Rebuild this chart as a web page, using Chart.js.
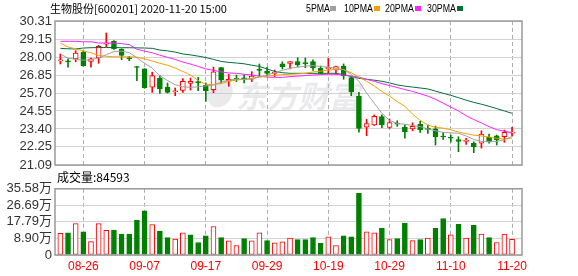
<!DOCTYPE html>
<html><head><meta charset="utf-8">
<script src="https://cdn.jsdelivr.net/npm/chart.js@4/dist/chart.umd.min.js"></script>
<style>
html,body{margin:0;padding:0;background:#fff;width:578px;height:276px;overflow:hidden;}
#wrap{position:relative;width:578px;height:276px;}
canvas{position:absolute;left:0;}
#priceC{top:0;width:578px;height:178px;}
#volC{top:178px;width:578px;height:98px;}
.t{position:absolute;white-space:nowrap;color:#000;font-family:"Noto Sans CJK SC","Liberation Sans",sans-serif;}
.lg{position:absolute;top:1px;font-size:11px;line-height:14px;font-family:"Liberation Sans",sans-serif;color:#000;white-space:nowrap;transform-origin:0 0;transform:scaleX(0.8);}
.sw{position:absolute;top:6px;width:6px;height:5px;}
</style></head>
<body><div id="wrap">
<canvas id="priceC" width="578" height="178"></canvas>
<canvas id="volC" width="578" height="98"></canvas>
<div class="t" style="left:50px;top:0px;font-size:11px;line-height:16px;">生物股份[600201] 2020-11-20 15:00</div>
<div id="legend"></div>
<div class="t" style="left:57px;top:168px;font-size:12px;line-height:17px;">成交量:84593</div>
</div>
<script>
const dates = ["08-21","08-24","08-25","08-26","08-27","08-28","08-31","09-01","09-02","09-03","09-04","09-07","09-08","09-09","09-10","09-11","09-14","09-15","09-16","09-17","09-18","09-21","09-22","09-23","09-24","09-25","09-28","09-29","09-30","10-09","10-12","10-13","10-14","10-15","10-16","10-19","10-20","10-21","10-22","10-23","10-26","10-27","10-28","10-29","10-30","11-02","11-03","11-04","11-05","11-06","11-09","11-10","11-11","11-12","11-13","11-16","11-17","11-18","11-19","11-20"];
const tickDates = ["08-26","09-07","09-17","09-29","10-19","10-29","11-10","11-20"];
const opens  = [27.76,27.72,27.88,28.32,27.72,27.94,28.83,29.01,28.50,27.92,27.37,27.24,26.08,26.66,26.08,25.78,25.87,26.32,26.40,26.19,25.92,27.32,26.45,26.62,26.64,26.58,27.19,27.09,26.96,27.56,27.60,27.71,27.62,27.71,27.28,27.24,27.19,27.43,26.68,25.51,23.51,23.66,24.19,23.50,23.75,23.51,23.40,23.70,23.41,23.41,22.92,22.84,22.72,22.60,22.48,22.48,22.86,22.95,22.90,23.13];
const highs  = [28.20,27.89,28.41,28.36,27.94,28.75,29.54,29.05,28.54,28.05,27.41,27.26,27.03,26.81,26.34,26.02,26.62,26.66,26.70,26.34,27.36,27.35,26.89,26.85,26.87,27.07,27.56,27.35,27.17,27.70,27.71,27.96,27.94,27.83,27.43,27.92,27.43,27.56,26.77,25.75,24.01,24.30,24.30,24.04,23.92,23.66,23.79,23.90,23.64,23.58,23.18,23.01,22.90,22.80,22.58,23.28,23.07,23.01,23.33,23.50];
const lows   = [27.56,27.35,27.70,27.42,27.35,27.60,28.66,28.49,27.83,27.77,26.49,26.00,25.74,25.68,25.70,25.53,25.74,25.89,25.85,25.17,25.72,26.32,26.13,26.43,26.34,26.43,26.77,26.77,26.75,27.24,27.24,27.39,27.32,27.15,26.90,26.96,26.90,26.58,25.53,23.19,22.97,23.62,23.48,23.43,23.56,22.80,23.28,23.17,23.12,22.37,22.73,22.55,21.94,22.41,21.88,22.17,22.48,22.37,22.54,22.97];
const closes = [27.80,27.69,28.26,27.45,27.88,28.69,28.88,28.54,28.11,27.89,27.33,26.04,26.81,25.96,25.74,25.82,26.45,26.45,26.36,25.85,27.06,26.53,26.58,26.58,26.60,26.79,27.15,26.96,27.01,27.37,27.71,27.49,27.58,27.30,27.00,27.35,27.39,26.79,25.79,23.44,23.75,24.21,23.66,23.81,23.71,23.22,23.56,23.35,23.37,22.90,22.88,22.80,22.60,22.65,22.26,23.07,22.58,22.69,23.18,23.18];
const ma5  = [28.20,27.93,27.85,27.80,27.82,27.95,28.15,28.35,28.38,28.28,27.95,27.60,27.30,26.80,26.50,26.23,26.10,26.06,26.10,26.15,26.20,26.40,26.52,26.60,26.56,26.60,26.72,26.85,27.00,27.15,27.28,27.35,27.42,27.45,27.40,27.35,27.28,27.20,26.90,26.45,25.70,25.05,24.40,23.95,23.75,23.70,23.62,23.55,23.40,23.28,23.18,23.15,23.12,22.95,22.72,22.60,22.58,22.60,22.70,22.92];
const ma10 = [28.90,28.65,28.52,28.40,28.28,28.10,28.05,28.02,28.02,28.02,28.00,27.88,27.75,27.60,27.48,27.30,27.08,26.85,26.50,26.25,26.25,26.30,26.45,26.53,26.58,26.64,26.72,26.78,26.83,26.88,26.90,26.92,26.96,27.05,27.10,27.17,27.20,27.20,27.00,26.72,26.45,26.15,25.80,25.50,25.15,24.85,24.35,23.95,23.65,23.50,23.45,23.35,23.20,23.10,23.00,22.95,22.88,22.80,22.75,22.82];
const ma20 = [29.01,29.01,29.01,28.98,28.98,28.90,28.90,28.90,28.86,28.80,28.50,28.38,28.28,28.12,27.98,27.85,27.68,27.55,27.40,27.24,27.15,27.05,26.98,26.96,26.90,26.85,26.78,26.72,26.70,26.70,26.75,26.78,26.82,26.85,26.88,26.90,26.90,26.85,26.78,26.72,26.58,26.45,26.30,26.18,26.05,25.92,25.80,25.65,25.50,25.30,25.05,24.80,24.55,24.25,24.00,23.78,23.55,23.35,23.25,23.16];
const ma30 = [28.56,28.53,28.52,28.58,28.60,28.61,28.61,28.61,28.60,28.60,28.59,28.58,28.56,28.45,28.40,28.32,28.20,28.14,28.06,27.97,27.85,27.72,27.66,27.62,27.57,27.48,27.40,27.24,27.08,27.00,26.96,26.96,26.96,26.96,26.96,26.96,26.96,26.88,26.75,26.64,26.58,26.52,26.45,26.35,26.22,26.14,26.08,26.02,25.96,25.82,25.68,25.55,25.40,25.24,25.10,24.98,24.85,24.70,24.55,24.40];
const volumes = [11.7,11.9,16.9,12.4,7.2,16.9,13.2,13.4,11.3,11.3,18.6,23.7,16.3,12.9,9.3,8.6,11.9,10.8,6.7,10.3,15.3,9.3,7.6,5.0,8.8,7.6,11.9,7.7,6.5,7.1,9.1,8.3,8.3,9.3,6.3,9.8,5.0,10.3,9.8,33.2,12.4,11.9,14.4,8.3,8.8,17.0,7.7,8.3,9.1,14.4,19.6,10.8,16.5,9.1,16.0,11.3,9.3,6.7,11.3,8.46];
const volUp = [1,0,1,0,1,1,1,0,0,0,0,0,1,0,0,1,1,0,0,0,1,0,1,1,0,1,1,0,1,1,1,0,0,0,0,1,1,0,0,0,1,1,0,1,0,0,1,0,1,0,0,1,0,1,0,1,0,1,1,1];
const priceTicks = [21.09,22.25,23.40,24.55,25.70,26.85,28.00,29.15,30.31];
const volTicks = [0,8.90,17.79,26.69,35.58];
const maNames = ["5PMA","10PMA","20PMA","30PMA"];
const maColors = ["#a0a0a0","#f5a000","#ff22ff","#006f38"];

const RED = "#ff0000", GREEN = "#008000";
const candleUp = closes.map((c,i)=>c>=opens[i]);

(function(){
  const lg = document.getElementById('legend');
  const textLefts = [306,344,385,427];
  const swLefts = [330,374,415,457];
  maNames.forEach((n,k)=>{
    const d = document.createElement('div');
    d.className='lg'; d.style.left=textLefts[k]+'px'; d.textContent = n;
    lg.appendChild(d);
    const s = document.createElement('div');
    s.className='sw'; s.style.left=swLefts[k]+'px'; s.style.background=maColors[k];
    lg.appendChild(s);
  });
})();

function framePlugin(id, watermark){
  return {
    id: id,
    beforeDatasetsDraw(chart){
      const ctx = chart.ctx;
      if (!watermark) return;
      ctx.save();
      ctx.fillStyle = 'rgba(205,205,212,0.42)';
      ctx.font = 'italic bold 31px "Noto Sans CJK SC"';
      ctx.textBaseline = 'alphabetic';
      ctx.fillText('东方财富', 236, 108);
      ctx.beginPath();
      ctx.ellipse(220, 93, 12, 15, 0.5, 0, Math.PI*2);
      ctx.fill();
      ctx.restore();
    },
    afterDraw(chart){
      const a = chart.chartArea, ctx = chart.ctx;
      ctx.save();
      ctx.strokeStyle = '#9a9a9a';
      ctx.lineWidth = 1.5;
      ctx.strokeRect(a.left, a.top, a.right-a.left, a.bottom-a.top);
      ctx.restore();
    }
  };
}

const xCommon = {
  type:'linear', min:-0.7, max:60.3, offset:false,
  afterBuildTicks: s => { s.ticks = tickDates.map(d=>({value: dates.indexOf(d)})); },
  grid:{color:'#acacac', drawTicks:false, offset:false},
  border:{display:false, dash:[4,3]}
};

new Chart(document.getElementById('priceC'), {
  type:'bar',
  data:{datasets:[
    ...[ma5,ma10,ma20,ma30].map((arr,k)=>({type:'line', label:maNames[k], data:arr.map((v,i)=>({x:i,y:v})), borderColor:maColors[k], borderWidth:1, pointRadius:0, tension:0, order:0})),
    {type:'bar', label:'body', data:opens.map((o,i)=>({x:i,y:[o,closes[i]]})),
      backgroundColor:candleUp.map(u=>u?'#ffffff':GREEN), borderColor:candleUp.map(u=>u?RED:GREEN),
      borderWidth:1, borderSkipped:false, barThickness:5, minBarLength:1, grouped:false, order:1},
    {type:'bar', label:'wick', data:lows.map((l,i)=>({x:i,y:[l,highs[i]]})),
      backgroundColor:candleUp.map(u=>u?RED:GREEN), barThickness:1, grouped:false, order:2}
  ]},
  options:{
    responsive:false, animation:false,
    layout:{padding:{left:0,right:56,top:21,bottom:13}},
    plugins:{legend:{display:false}, tooltip:{enabled:false}},
    scales:{
      x:Object.assign({}, xCommon, {ticks:{display:false}, afterFit:s=>{s.height=0;}}),
      y:{min:21.09, max:30.31,
        afterBuildTicks: s => { s.ticks = priceTicks.map(v=>({value:v})); },
        ticks:{autoSkip:false, padding:3, color:'#333', font:{family:'"Liberation Sans"', size:13}, callback:v=>Number(v).toFixed(2)},
        grid:{color:'#d2d2d2', drawTicks:false}, border:{display:false},
        afterFit:s=>{s.width=55;}}
    }
  },
  plugins:[framePlugin('pframe', true)]
});

new Chart(document.getElementById('volC'), {
  type:'bar',
  data:{datasets:[
    {label:'成交量', data:volumes.map((v,i)=>({x:i,y:v})),
      backgroundColor:volUp.map(u=>u?'#ffffff':GREEN), borderColor:volUp.map(u=>u?RED:GREEN),
      borderWidth:1, borderSkipped:false, barThickness:5, grouped:false}
  ]},
  options:{
    responsive:false, animation:false,
    layout:{padding:{left:0,right:56,top:8,bottom:0}},
    plugins:{legend:{display:false}, tooltip:{enabled:false}},
    scales:{
      x:Object.assign({}, xCommon, {
        ticks:{display:true, autoSkip:false, maxRotation:0, padding:4, color:RED,
          font:{family:'"Liberation Sans"', size:12}, callback:v=>dates[v]},
        afterFit:s=>{s.height=21;}}),
      y:{min:0, max:35.58,
        afterBuildTicks: s => { s.ticks = volTicks.map(v=>({value:v})); },
        ticks:{autoSkip:false, padding:3, color:'#333', font:{family:'"Liberation Sans","Noto Sans CJK SC"', size:13}, callback:v=> v===0?'0':Number(v).toFixed(2)+'万'},
        grid:{color:'#d2d2d2', drawTicks:false}, border:{display:false},
        afterFit:s=>{s.width=55;}}
    }
  },
  plugins:[framePlugin('vframe', false)]
});
</script>
</body></html>
